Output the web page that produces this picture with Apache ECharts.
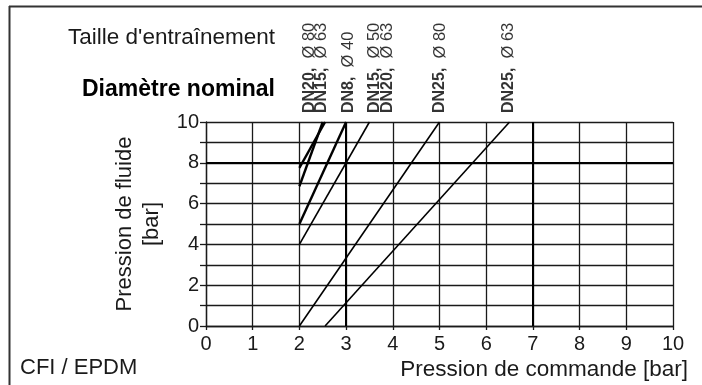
<!DOCTYPE html>
<html>
<head>
<meta charset="utf-8">
<script src="https://cdn.jsdelivr.net/npm/echarts@6/dist/echarts.min.js"></script>
<style>
html,body{margin:0;padding:0;background:#fff;}
#chart{width:702px;height:385px;}
</style>
</head>
<body>
<div id="chart"></div>
<script>
// Axis ticks
const xTicks = [0,1,2,3,4,5,6,7,8,9,10];
const yTicks = [0,2,4,6,8,10];

// Characteristic lines: [pression de commande, pression de fluide]
const lineDN20_80 = [[2, 7.75], [2.55, 10]];
const lineDN15_63 = [[2, 6.85], [2.5, 10]];
const lineDN8_40  = [[2, 5.0], [3.0, 10]];
const lineDN15_50 = [[2, 4.0], [3.5, 10]];
const lineDN25_80 = [[2, 0.0], [5.0, 10]];
const lineDN25_63 = [[2.55, 0.0], [6.5, 10]];

// Top labels (diamètre nominal, taille d'entraînement) and their x anchor
const labelDN   = ['DN20,', 'DN15,', 'DN8,', 'DN15,', 'DN20,', 'DN25,', 'DN25,'];
const labelSize = ['Ø 80', 'Ø 63', 'Ø 40', 'Ø 50', 'Ø 63', 'Ø 80', 'Ø 63'];
const labelX    = [2.21, 2.47, 3.05, 3.61, 3.88, 5.01, 6.47];

const FONT = '"Liberation Sans", Arial, Helvetica, sans-serif';
const INK = '#1a1a1a';

const chart = echarts.init(document.getElementById('chart'), null, {renderer:'canvas'});

function lineSeries(data, w){
  return {type:'line', data:data, showSymbol:false, symbol:'none', silent:true,
    lineStyle:{color:'#000', width:w}, z:5};
}

const option = {
  animation:false,
  backgroundColor:'#fff',
  grid:{left:206, right:29, top:122, bottom:59},
  xAxis:{
    type:'value', min:0, max:10, interval:1,
    axisLine:{show:true, lineStyle:{color:INK, width:1.3}},
    axisTick:{show:true, length:4, lineStyle:{color:INK, width:1.3}},
    axisLabel:{color:INK, fontSize:20, fontFamily:FONT, margin:8,
      formatter:v => xTicks.indexOf(v) >= 0 ? String(v) : ''},
    splitLine:{show:true, lineStyle:{color:INK, width:1.3}},
    name:'Pression de commande [bar]',
    nameLocation:'end', nameGap:15,
    nameTextStyle:{color:INK, fontSize:22.5, fontFamily:FONT, align:'right', verticalAlign:'top', padding:[32,0,0,0]}
  },
  yAxis:{
    type:'value', min:0, max:10, interval:1,
    axisLine:{show:true, lineStyle:{color:INK, width:1.3}},
    axisTick:{show:true, length:6, lineStyle:{color:INK, width:1.3}},
    axisLabel:{color:INK, fontSize:20, fontFamily:FONT, margin:7,
      formatter:v => yTicks.indexOf(v) >= 0 ? String(v) : ''},
    splitLine:{show:true, lineStyle:{color:INK, width:1.3}},
    name:'Pression de fluide\n[bar]',
    nameLocation:'middle', nameRotate:90, nameGap:33,
    nameTextStyle:{color:INK, fontSize:22, fontFamily:FONT, lineHeight:27, align:'center'}
  },
  series:[
    {type:'line', data:[], silent:true,
      markLine:{silent:true, symbol:'none', label:{show:false},
        lineStyle:{color:'#000', width:2, type:'solid'},
        data:[{xAxis:3},{xAxis:7},{yAxis:8}]}},
    lineSeries(lineDN20_80, 2.4),
    lineSeries(lineDN15_63, 2.4),
    lineSeries(lineDN8_40, 2.4),
    lineSeries(lineDN15_50, 1.6),
    lineSeries(lineDN25_80, 1.6),
    lineSeries(lineDN25_63, 1.6),
    {type:'scatter', symbolSize:0, silent:true, z:6,
      data: labelX.map((x,i) => ({value:[x, 10], dn:labelDN[i], sz:labelSize[i]})),
      label:{show:true, position:'top', distance:9, rotate:90, align:'left', verticalAlign:'middle',
        fontSize:16, fontFamily:FONT, color:'#000',
        formatter:p => '{b|' + p.data.dn + '}{r|  ' + p.data.sz + '}',
        rich:{
          b:{fontFamily:FONT, fontWeight:'bold', fontSize:16, color:'#000'},
          r:{fontFamily:FONT, fontWeight:'normal', fontSize:16.5, color:'#000'}
        }}
    }
  ],
  graphic:[
    {type:'line', shape:{x1:9, y1:6.5, x2:702, y2:6.5}, style:{stroke:'#333', lineWidth:2}},
    {type:'line', shape:{x1:9.5, y1:6, x2:9.5, y2:385}, style:{stroke:'#333', lineWidth:2}},
    {type:'text', right:427, top:26, style:{text:"Taille d'entraînement", font:'22.5px ' + FONT, fill:INK}},
    {type:'text', right:427, top:78, style:{text:'Diamètre nominal', font:'bold 23px ' + FONT, fill:'#000'}},
    {type:'text', left:20, top:357, style:{text:'CFI / EPDM', font:'22px ' + FONT, fill:INK}}
  ]
};
chart.setOption(option);
</script>
</body>
</html>
